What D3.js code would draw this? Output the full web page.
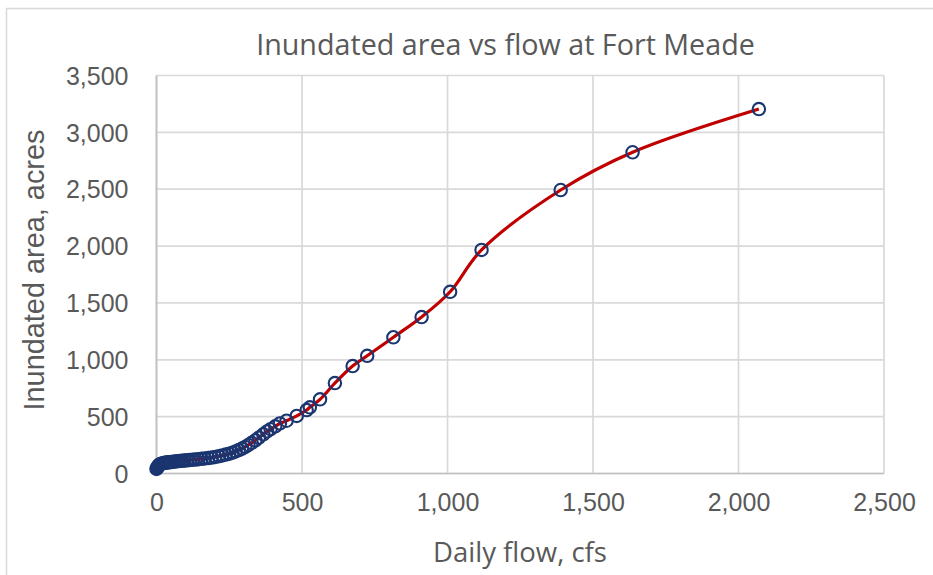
<!DOCTYPE html>
<html>
<head>
<meta charset="utf-8">
<script src="https://cdn.jsdelivr.net/npm/d3@7"></script>
<style>
  html, body { margin: 0; padding: 0; background: #ffffff; }
  svg { display: block; }
</style>
</head>
<body>
<svg id="chart" width="933" height="575"></svg>
<script>
// ---- Data ----
const title = "Inundated area vs flow at Fort Meade";
const xTitle = "Daily flow, cfs";
const yTitle = "Inundated area, acres";

const flows = [0, 2, 4, 6, 8, 10, 13, 16, 20, 25, 30, 35, 40, 46, 52, 58, 65, 72, 80, 88,
  96, 105, 114, 124, 134, 144, 155, 166, 178, 190, 202, 214, 226, 238, 250, 261, 272, 283,
  294, 305, 316, 327, 340, 352, 367, 380, 392, 408, 424, 447, 482, 516, 527, 562, 613,
  674, 724, 814, 911, 1009, 1117, 1389, 1636, 2070];
const areas = [40, 50, 58, 65, 72, 77, 82, 86, 89, 92, 94, 96, 98, 100, 102, 104, 106, 108, 110, 112,
  114, 116, 118, 121, 123, 126, 129, 132, 136, 140, 146, 152, 159, 166, 174, 183, 194, 206,
  219, 234, 251, 270, 292, 316, 345, 370, 390, 415, 440, 464, 506, 558, 582, 652, 795,
  945, 1035, 1198, 1376, 1598, 1966, 2493, 2825, 3205];

const xTicks = [0, 500, 1000, 1500, 2000, 2500];
const yTicks = [0, 500, 1000, 1500, 2000, 2500, 3000, 3500];

const points = flows.map((f, i) => ({ x: f, y: areas[i] }));

// ---- Layout ----
const svg = d3.select("#chart");
const plot = { left: 156.5, right: 884, top: 75.5, bottom: 473.5 };

const x = d3.scaleLinear().domain([0, 2500]).range([plot.left, plot.right]);
const y = d3.scaleLinear().domain([0, 3500]).range([plot.bottom, plot.top]);

const fmt = d3.format(",");
const textColor = "#595959";
const gridColor = "#d9d9d9";
const tickFont = "'Liberation Sans', Arial, sans-serif";
const titleFont = "'Open Sans', 'Liberation Sans', sans-serif";

// outer chart border
svg.append("rect")
  .attr("x", 6.5).attr("y", 8.5)
  .attr("width", 960).attr("height", 600)
  .attr("fill", "none").attr("stroke", gridColor).attr("stroke-width", 1.5);

// gridlines
const g = svg.append("g");
g.selectAll("line.h").data(yTicks).join("line")
  .attr("x1", plot.left).attr("x2", plot.right)
  .attr("y1", d => y(d)).attr("y2", d => y(d))
  .attr("stroke", gridColor).attr("stroke-width", 1.7);
g.selectAll("line.v").data(xTicks).join("line")
  .attr("y1", plot.top).attr("y2", plot.bottom)
  .attr("x1", d => x(d)).attr("x2", d => x(d))
  .attr("stroke", gridColor).attr("stroke-width", 1.7);
// axis lines
g.append("line").attr("x1", plot.left).attr("x2", plot.left)
  .attr("y1", plot.top).attr("y2", plot.bottom)
  .attr("stroke", "#bfbfbf").attr("stroke-width", 1.7);
g.append("line").attr("x1", plot.left).attr("x2", plot.right)
  .attr("y1", plot.bottom).attr("y2", plot.bottom)
  .attr("stroke", "#bfbfbf").attr("stroke-width", 1.7);

// axes (labels only)
const xAxis = d3.axisBottom(x).tickValues(xTicks).tickFormat(fmt).tickSize(0).tickPadding(0);
const yAxis = d3.axisLeft(y).tickValues(yTicks).tickFormat(fmt).tickSize(0).tickPadding(0);

const gx = svg.append("g").attr("transform", `translate(0, ${plot.bottom + 20})`).call(xAxis);
const gy = svg.append("g").attr("transform", `translate(${plot.left - 28}, 0)`).call(yAxis);
[gx, gy].forEach(a => {
  a.select(".domain").remove();
  a.selectAll("text")
    .attr("fill", textColor)
    .style("font-family", tickFont)
    .style("font-size", "25px");
});
gy.selectAll("text").attr("dy", "0.35em");
gx.selectAll("text").attr("dy", "0.71em");

// line
const line = d3.line()
  .x(d => x(d.x)).y(d => y(d.y))
  .curve(d3.curveCatmullRom.alpha(0.5));
svg.append("path").datum(points)
  .attr("d", line)
  .attr("fill", "none")
  .attr("stroke", "#c00000")
  .attr("stroke-width", 3.2)
  .attr("stroke-linejoin", "round");

// markers
svg.append("g").selectAll("circle").data(points).join("circle")
  .attr("cx", d => x(d.x)).attr("cy", d => y(d.y))
  .attr("r", 6.2)
  .attr("fill", "none")
  .attr("stroke", "#1a3570")
  .attr("stroke-width", 2.1);

// titles (sized to reference widths)
function fit(sel, target) {
  const w = sel.node().getComputedTextLength();
  const fs = parseFloat(sel.style("font-size"));
  sel.style("font-size", (fs * target / w) + "px");
}

const t = svg.append("text")
  .attr("x", 505.5).attr("y", 55)
  .attr("text-anchor", "middle")
  .attr("fill", textColor)
  .style("font-family", titleFont)
  .style("font-size", "22px")
  .text(title);
fit(t, 499);

const xt = svg.append("text")
  .attr("x", 520).attr("y", 562)
  .attr("text-anchor", "middle")
  .attr("fill", textColor)
  .style("font-family", titleFont)
  .style("font-size", "22px")
  .text(xTitle);
fit(xt, 174);

const yt = svg.append("text")
  .attr("transform", "translate(44, 270) rotate(-90)")
  .attr("text-anchor", "middle")
  .attr("fill", textColor)
  .style("font-family", tickFont)
  .style("font-size", "24px")
  .text(yTitle);
fit(yt, 281);
</script>
</body>
</html>
